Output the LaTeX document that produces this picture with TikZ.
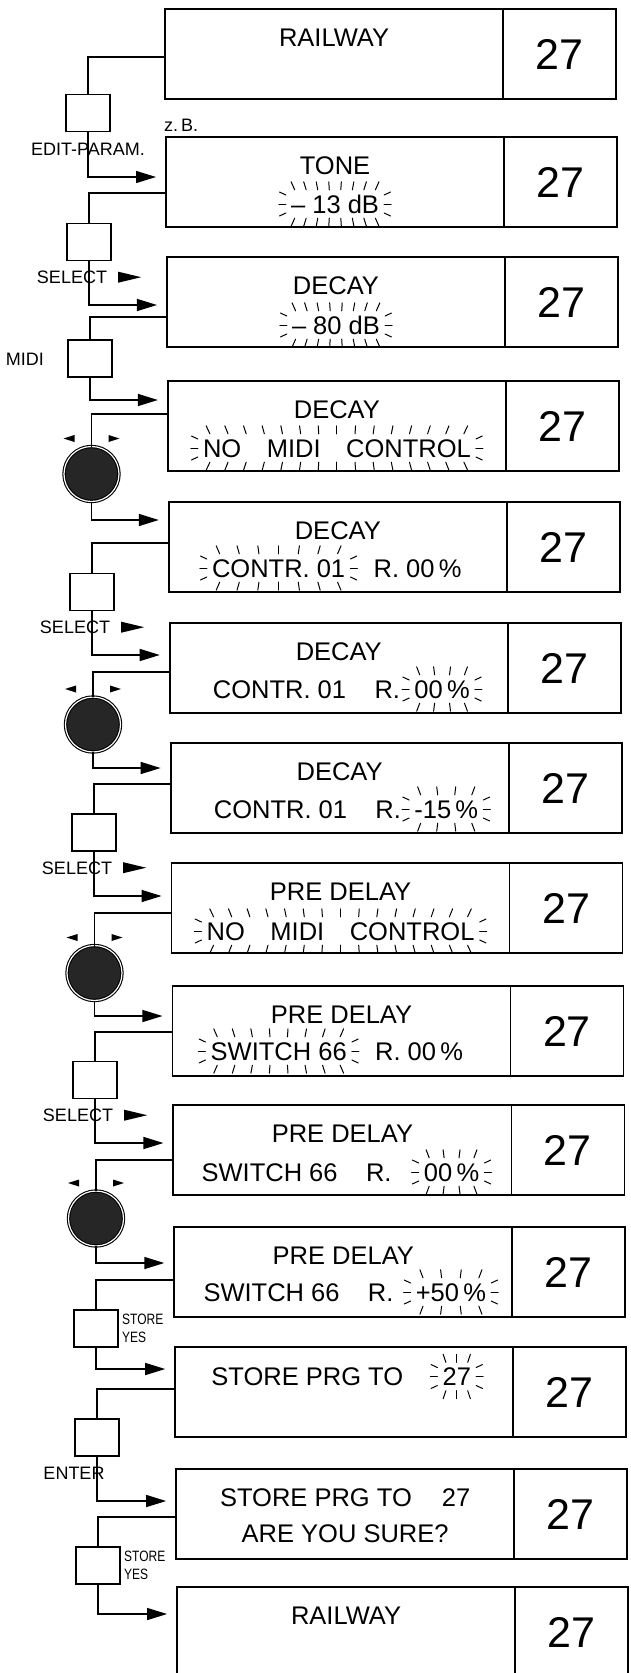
\documentclass[tikz,border=0pt]{standalone}
\usepackage{fontspec}
\setmainfont{Liberation Sans}
\usepackage{graphicx}
\usetikzlibrary{positioning,calc,arrows.meta}

\tikzset{
  disp/.style={draw, line width=1.8pt, outer sep=0pt, inner sep=0pt, minimum width=338pt, minimum height=90pt, anchor=north west},
  numcell/.style={draw, line width=1.8pt, outer sep=0pt, inner sep=0pt, minimum width=113pt, minimum height=90pt, anchor=west, font=\fontsize{43}{43}\selectfont},
  lcd/.style={inner sep=2pt, text height=18pt, text depth=0pt, font=\fontsize{25.5}{27}\selectfont},
  key/.style={draw, line width=1.5pt, minimum width=44pt, minimum height=37pt, inner sep=0pt, outer sep=0pt},
  knob/.style={circle, draw, line width=1.1pt, double=white, double distance=1.2pt, fill=black!85, minimum size=55pt, inner sep=0pt, outer sep=0pt},
  lbl/.style={inner sep=0pt, text height=13pt, text depth=0pt, font=\fontsize{18}{20}\selectfont},
  small/.style={inner sep=0pt, align=left, font=\fontsize{15}{18}\selectfont},
  link/.style={line width=1.4pt},
  feed/.style={line width=1.4pt, -{Triangle[length=20pt,width=12pt]}, shorten >=10pt},
  flash/.style={line width=1pt, line cap=round}
}

% blinking marks round a text node: node, ticks per edge
\newcommand{\flashmarks}[2]{%
  \foreach \i in {1,...,#2} {
    \pgfmathsetmacro{\tf}{(\i-0.5)/#2}
    \draw[flash] ($(#1.north west)!\tf!(#1.north east)+(0,3)$) -- ++({(\tf-0.5)*8},8);
    \draw[flash] ($(#1.south west)!\tf!(#1.south east)+(0,-3)$) -- ++({(\tf-0.5)*8},-8);
  }
  \foreach \dy/\a in {9/155,0/180,-9/205} {\draw[flash] ($(#1.west)+(-3,\dy)$) -- ++(\a:7);}
  \foreach \dy/\a in {9/25,0/0,-9/-25} {\draw[flash] ($(#1.east)+(3,\dy)$) -- ++(\a:7);}
}
% small left/right marks over a dial
\newcommand{\knobmarks}[1]{%
  \fill ($(#1.north)+(-28,8)$) -- ++(11,3.5) -- ++(0,-7) -- cycle;
  \fill ($(#1.north)+(28,8)$) -- ++(-11,3.5) -- ++(0,-7) -- cycle;
}
\newcommand{\selmark}[1]{%
  \fill ($(#1.east)+(11,5.5)$) -- ++(23,-5.5) -- ++(-23,-5.5) -- cycle;
}
\newcommand{\narrow}[1]{\scalebox{0.8}[1]{#1}}

\begin{document}
\begin{tikzpicture}[x=1pt,y=1pt]
    \useasboundingbox (0,0) rectangle (630,-1673);
    \clip (0,0) rectangle (630,-1673);

    % Display boxes
    \foreach \r/\ty in {1/9,2/137,3/257,4/381,5/502,6/623,7/743,8/863,9/986,10/1105,11/1227,12/1347,13/1469,14/1587} {
        \node[disp] (d\r) at ({165+0.0076*\ty},-\ty) {};
        \node[numcell] (n\r) at (d\r.east) {27};
    }
    \foreach \r/\txt in {1/RAILWAY,2/TONE,3/DECAY,4/DECAY,5/DECAY,6/DECAY,7/DECAY,8/PRE DELAY,9/PRE DELAY,10/PRE DELAY,11/PRE DELAY,13/STORE PRG TO\hspace{30pt}27,14/RAILWAY} {
        \node[lcd] (t\r) at ($(d\r.north)+(0,-28)$) {\txt};
    }

    % Second lines
    \node[lcd] (s2) at ($(d2.north)+(0,-67)$) {– 13 dB};
    \flashmarks{s2}{8}
    \node[lcd] (s3) at ($(d3.north)+(0,-68)$) {– 80 dB};
    \flashmarks{s3}{8}
    \node[lcd] (s4) at ($(d4.north)+(0,-67)$) {NO\quad MIDI\quad CONTROL};
    \flashmarks{s4}{15}
    \node[lcd, anchor=west] (s5a) at ($(d5.north west)+(41,-66)$) {CONTR. 01};
    \node[lcd, right=24pt of s5a] (s5b) {R. 00\,\%};
    \flashmarks{s5a}{7}
    \node[lcd, anchor=west] (s6a) at ($(d6.north west)+(41,-66)$) {CONTR. 01};
    \node[lcd, right=24pt of s6a] (s6b) {R.};
    \node[lcd, right=10pt of s6b] (s6c) {00\,\%};
    \flashmarks{s6c}{4}
    \node[lcd, anchor=west] (s7a) at ($(d7.north west)+(41,-66)$) {CONTR. 01};
    \node[lcd, right=24pt of s7a] (s7b) {R.};
    \node[lcd, right=9pt of s7b] (s7c) {-15\,\%};
    \flashmarks{s7c}{4}
    \node[lcd] (s8) at ($(d8.north)+(0,-68)$) {NO\quad MIDI\quad CONTROL};
    \flashmarks{s8}{15}
    \node[lcd, anchor=west] (s9a) at ($(d9.north west)+(36,-65)$) {SWITCH 66};
    \node[lcd, right=24pt of s9a] (s9b) {R. 00\,\%};
    \flashmarks{s9a}{8}
    \node[lcd, anchor=west] (s10a) at ($(d10.north west)+(26,-67)$) {SWITCH 66};
    \node[lcd, right=24pt of s10a] (s10b) {R.};
    \node[lcd, right=28pt of s10b] (s10c) {00\,\%};
    \flashmarks{s10c}{4}
    \node[lcd, anchor=west] (s11a) at ($(d11.north west)+(27,-65)$) {SWITCH 66};
    \node[lcd, right=24pt of s11a] (s11b) {R.};
    \node[lcd, right=18pt of s11b] (s11c) {+50\,\%};
    \flashmarks{s11c}{4}
    \node[lcd, anchor=west] (t12a) at ($(d12.north west)+(34,-29.5)$) {STORE PRG TO};
    \node[lcd, right=35pt of t12a] (t12b) {27};
    \flashmarks{t12b}{3}
    \node[lcd] (s13) at ($(d13.north)+(0,-64)$) {ARE YOU SURE?};

    % Keys and dials
    \node[key] (k1) at (88,-113) {};
    \node[key] (k2) at (89,-242) {};
    \node[key] (k3) at (90,-358.5) {};
    \node[knob] (w1) at (91.5,-474) {};
    \node[key] (k4) at (92,-592) {};
    \node[knob] (w2) at (93,-724.5) {};
    \node[key] (k5) at (94,-832.5) {};
    \node[knob] (w3) at (94.5,-973) {};
    \node[key] (k6) at (95,-1080) {};
    \node[knob] (w4) at (96,-1218.5) {};
    \node[key] (k7) at (96,-1328.5) {};
    \node[key] (k8) at (97,-1437.5) {};
    \node[key] (k9) at (98,-1565.5) {};
    \foreach \w in {w1,w2,w3,w4} {\knobmarks{\w}}

    % Key labels
    \node[lbl, anchor=south west] (zb) at ($(d2.north west)+(-2,5)$) {z.\,B.};
    \node[lbl, below=11pt of k1] (l1) {EDIT-PARAM.};
    \node[lbl, below=10pt of k2, xshift=-17pt] (l2) {SELECT};
    \node[lbl, left=24pt of k3] (l3) {MIDI};
    \node[lbl, below=10pt of k4, xshift=-17pt] (l4) {SELECT};
    \node[lbl, below=10pt of k5, xshift=-17pt] (l5) {SELECT};
    \node[lbl, below=10pt of k6, xshift=-17pt] (l6) {SELECT};
    \node[small, right=4pt of k7] (l7) {\narrow{STORE}\\\narrow{YES}};
    \node[lbl, below=10pt of k8, xshift=-23pt] (l8) {ENTER};
    \node[small, right=4pt of k9] (l9) {\narrow{STORE}\\\narrow{YES}};
    \foreach \l in {l2,l4,l5,l6} {\selmark{\l}}

    % Connectors: display -> key -> next display
    \foreach \src/\via/\dst/\o/\i in {d1/k1/d2/-3pt/5pt, d2/k2/d3/-11pt/-3pt, d3/k3/d4/-15pt/26pt, d4/w1/d5/12pt/27pt, d5/k4/d6/4pt/13pt, d6/w2/d7/-4pt/20pt, d7/k5/d8/4pt/12pt, d8/w3/d9/-5pt/15pt, d9/k6/d10/-1pt/7pt, d10/w4/d11/-10pt/9pt, d11/k7/d12/-8pt/23pt, d12/k8/d13/3pt/13pt, d13/k9/d14/-3pt/18pt} {
        \draw[link] ([yshift=\o]\src.west) -| (\via.north);
        \draw[feed] (\via.south) |- ([yshift=\i]\dst.west);
    }
\end{tikzpicture}
\end{document}
